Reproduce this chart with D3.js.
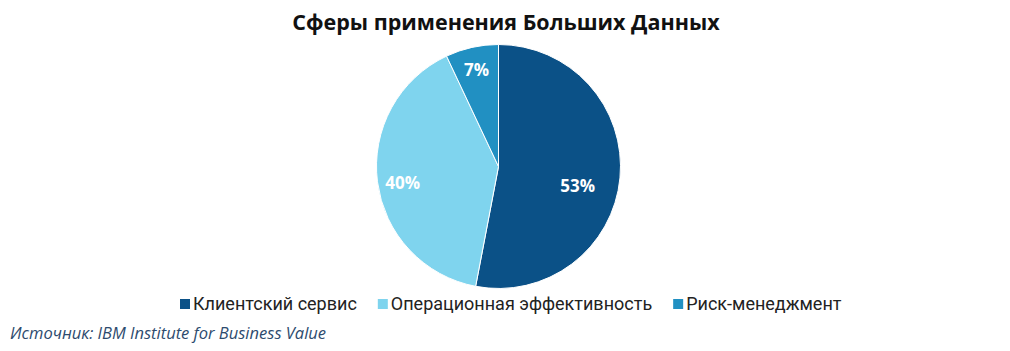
<!DOCTYPE html>
<html>
<head>
<meta charset="utf-8">
<script src="https://cdn.jsdelivr.net/npm/d3@7"></script>
<style>
  body { margin: 0; background: #ffffff; }
  svg { display: block; }
</style>
</head>
<body>
<svg id="chart" width="1010" height="351"></svg>
<script>
// Data
var categories = ["Клиентский сервис", "Операционная эффективность", "Риск-менеджмент"];
var values = [53, 40, 7];
var colors = ["#0b5187", "#7fd4ee", "#2190c2"];

var width = 1010;
var height = 351;
var cx = 498.5;
var cy = 166.5;
var radius = 122;

// label nudges (Excel "best fit" placement)
var labelNudge = [[-12, 11], [-5, 5], [-2, -7]];

var svg = d3.select("#chart");

// Title
svg.append("text")
    .attr("x", 506)
    .attr("y", 30)
    .attr("text-anchor", "middle")
    .attr("font-family", "Open Sans")
    .attr("font-weight", "bold")
    .attr("font-size", 21.5)
    .attr("fill", "#111")
    .text("Сферы применения Больших Данных");

// Pie
var pie = d3.pie().sort(null).value(d => d.value);
var arc = d3.arc().innerRadius(0).outerRadius(radius);
var labelArc = d3.arc().innerRadius(radius * 0.75).outerRadius(radius * 0.75);

var rows = categories.map((c, i) => ({label: c, value: values[i], color: colors[i]}));
var arcs = pie(rows);

var g = svg.append("g").attr("transform", "translate(" + cx + "," + cy + ")");
g.selectAll("path")
    .data(arcs)
    .enter()
    .append("path")
    .attr("d", arc)
    .attr("fill", d => d.data.color)
    .attr("stroke", "#ffffff")
    .attr("stroke-width", 1);

g.selectAll(".pct")
    .data(arcs)
    .enter()
    .append("text")
    .attr("class", "pct")
    .attr("transform", (d, i) => {
        var c = labelArc.centroid(d);
        return "translate(" + (c[0] + labelNudge[i][0]) + "," + (c[1] + labelNudge[i][1]) + ")";
    })
    .attr("text-anchor", "middle")
    .attr("dy", "0.35em")
    .attr("font-family", "Open Sans")
    .attr("font-weight", "bold")
    .attr("font-size", 17)
    .attr("fill", "#ffffff")
    .text(d => d.data.value + "%");

// Legend
var legend = svg.append("g").attr("transform", "translate(0,304)");
var lx = 180;
rows.forEach(function(d) {
    legend.append("rect")
        .attr("x", lx)
        .attr("y", -5)
        .attr("width", 10)
        .attr("height", 10)
        .attr("fill", d.color);
    var t = legend.append("text")
        .attr("x", lx + 13)
        .attr("y", 0)
        .attr("dy", "0.35em")
        .attr("font-family", "Roboto")
        .attr("font-size", 18)
        .attr("fill", "#222")
        .text(d.label);
    lx += 13 + t.node().getComputedTextLength() + 21;
});

// Source
svg.append("text")
    .attr("x", 10)
    .attr("y", 339)
    .attr("font-family", "Open Sans")
    .attr("font-style", "italic")
    .attr("font-size", 16.5)
    .attr("fill", "#2d4b6e")
    .text("Источник:  IBM Institute for Business Value");
</script>
</body>
</html>
